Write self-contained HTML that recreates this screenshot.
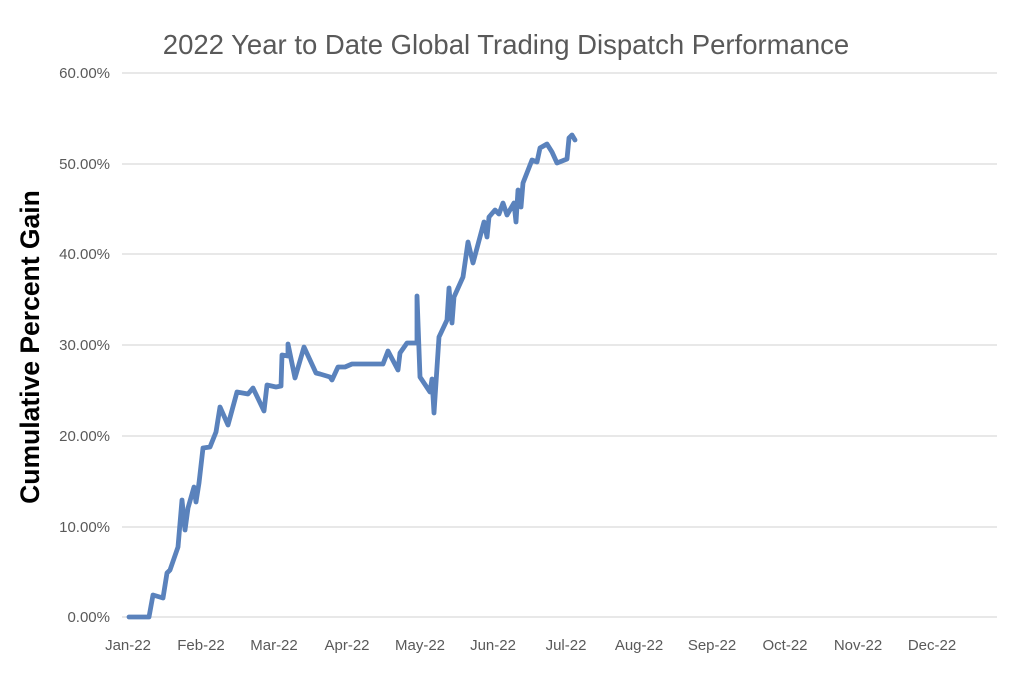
<!DOCTYPE html>
<html><head><style>body{margin:0;background:#fff}svg{display:block}</style></head><body>
<svg width="1030" height="700" xmlns="http://www.w3.org/2000/svg" font-family="Liberation Sans, sans-serif">
<rect width="1030" height="700" fill="#fff"/>
<text x="506" y="54" text-anchor="middle" font-size="27.5" fill="#595959">2022 Year to Date Global Trading Dispatch Performance</text>
<g stroke="#d9d9d9" stroke-width="1.3">
<line x1="122" x2="997" y1="73" y2="73"/><line x1="122" x2="997" y1="164" y2="164"/><line x1="122" x2="997" y1="254" y2="254"/><line x1="122" x2="997" y1="345" y2="345"/><line x1="122" x2="997" y1="436" y2="436"/><line x1="122" x2="997" y1="527" y2="527"/><line x1="122" x2="997" y1="617" y2="617"/>
</g>
<g font-size="15" fill="#595959" text-anchor="end">
<text x="110" y="78">60.00%</text><text x="110" y="169">50.00%</text><text x="110" y="259">40.00%</text><text x="110" y="350">30.00%</text><text x="110" y="441">20.00%</text><text x="110" y="532">10.00%</text><text x="110" y="622">0.00%</text>
</g>
<g font-size="15" fill="#595959" text-anchor="middle">
<text x="128" y="650">Jan-22</text><text x="201" y="650">Feb-22</text><text x="274" y="650">Mar-22</text><text x="347" y="650">Apr-22</text><text x="420" y="650">May-22</text><text x="493" y="650">Jun-22</text><text x="566" y="650">Jul-22</text><text x="639" y="650">Aug-22</text><text x="712" y="650">Sep-22</text><text x="785" y="650">Oct-22</text><text x="858" y="650">Nov-22</text><text x="932" y="650">Dec-22</text>
</g>
<text transform="translate(39,347) rotate(-90)" text-anchor="middle" font-size="26.5" font-weight="bold" fill="#000">Cumulative Percent Gain</text>
<polyline fill="none" stroke="#5a82bc" stroke-width="4.8" stroke-linejoin="round" stroke-linecap="round" points="129,617 149,617 153,595 163,598 167,573 170,570 178,547 182,500 185,530 188,508 194,487 196,502 199,483 203,448 210,447 216,432 220,407 228,425 237,392 248,394 253,388 264,411 267,385 276,387 281,386 282,355 288,356 288,344 295,378 304,347 316,373 320,374 330,377 332,380 338,367 345,367 352,364 383,364 388,351 398,370 400,353 407,343 417,343 417,296 420,377 430,392 432,379 434,413 439,337 447,320 449,288 452,323 454,297 463,277 468,242 473,263 484,222 487,237 489,217 495,210 499,214 503,203 507,215 514,203 516,222 518,190 521,207 523,183 532,160 537,162 540,148 547,144 552,152 557,163 567,159 569,138 572,135 575,140"/>
</svg>
</body></html>
